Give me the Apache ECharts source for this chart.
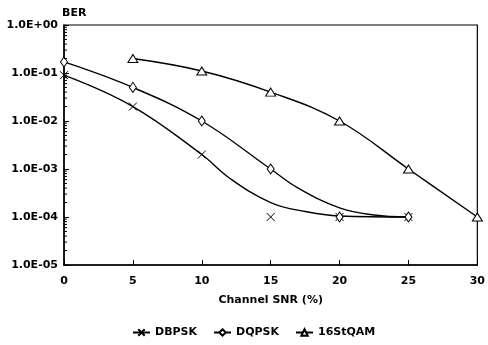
<!DOCTYPE html>
<html>
<head>
<meta charset="utf-8">
<script src="https://cdn.jsdelivr.net/npm/echarts@6/dist/echarts.min.js"></script>
<style>
html,body{margin:0;padding:0;background:#fff;}
#chart{width:488px;height:345px;}
</style>
</head>
<body>
<div id="chart"></div>
<script>
// Series names
var seriesNames = ['DBPSK', 'DQPSK', '16StQAM'];
// Measured markers [SNR, BER]
var dbpskPoints = [[0, 0.09], [5, 0.02], [10, 0.002], [15, 1e-4], [20, 1e-4], [25, 1e-4]];
var dqpskPoints = [[0, 0.17], [5, 0.05], [10, 0.01], [15, 1e-3], [20, 1e-4], [25, 1e-4]];
var qamPoints = [[5, 0.2], [10, 0.11], [15, 0.04], [20, 0.01], [25, 1e-3], [30, 1e-4]];
// Fitted curves [SNR, BER]
var dbpskCurve = [[0, 0.09], [5, 0.02], [10, 0.002], [12, 6.5e-4], [15, 2e-4], [17.5, 1.3e-4], [20, 1.05e-4], [25, 1e-4]];
var dqpskCurve = [[0, 0.17], [5, 0.05], [10, 0.01], [15, 1e-3], [17, 4e-4], [20, 1.55e-4], [22.5, 1.1e-4], [25, 1e-4]];
var qamCurve = [[5, 0.2], [10, 0.11], [15, 0.04], [20, 0.01], [25, 1e-3], [30, 1e-4]];
// Axis settings
var yExpMin = -5, yExpMax = 0;

function fmtExp(v) {
  var e = Math.round(Math.log10(v));
  var a = Math.abs(e);
  return '1.0E' + (e >= 0 ? '+' : '-') + (a < 10 ? '0' : '') + a;
}

// minor log tick positions (axis decoration)
var minorTickVals = [];
for (var e = yExpMin; e < yExpMax; e++) {
  for (var k = 2; k <= 9; k++) minorTickVals.push([0, k * Math.pow(10, e)]);
}

var FONT = 'DejaVu Sans';
var chart = echarts.init(document.getElementById('chart'), null, {renderer: 'canvas'});
var crossPath = 'path://M0,0L10,10M10,0L0,10';
var symbols = [crossPath, 'diamond', 'triangle'];
var symSizes = [[8, 8], [7, 10], [10, 8]];
var curves = [dbpskCurve, dqpskCurve, qamCurve];
var points = [dbpskPoints, dqpskPoints, qamPoints];

var series = [];
for (var i = 0; i < 3; i++) {
  series.push({
    name: seriesNames[i],
    type: 'line',
    data: curves[i],
    smooth: 0.4,
    showSymbol: false,
    symbol: symbols[i],
    symbolSize: symSizes[i],
    lineStyle: {color: '#000', width: 1.4},
    itemStyle: {color: i === 0 ? 'rgba(0,0,0,0)' : '#fff', borderColor: '#000', borderWidth: 1},
    z: 2,
    silent: true
  });
}
for (var j = 0; j < 3; j++) {
  series.push({
    name: seriesNames[j] + ' pts',
    type: 'scatter',
    data: points[j],
    symbol: symbols[j],
    symbolSize: symSizes[j],
    itemStyle: {color: j === 0 ? 'rgba(0,0,0,0)' : '#fff', borderColor: '#000', borderWidth: 1, opacity: 1},
    z: 3,
    silent: true
  });
}
series.push({
  type: 'custom',
  name: 'minorTicks',
  data: minorTickVals,
  silent: true,
  clip: false,
  z: 5,
  renderItem: function (params, api) {
    var p = api.coord([api.value(0), api.value(1)]);
    return {type: 'line', shape: {x1: p[0], y1: p[1], x2: p[0] + 3, y2: p[1]}, style: {stroke: '#000', lineWidth: 1}};
  }
});

chart.setOption({
  animation: false,
  backgroundColor: '#fff',
  grid: {left: 64, right: 7, top: 25, bottom: 80, show: true, borderColor: '#000', borderWidth: 1.2, backgroundColor: 'transparent'},
  legend: {
    data: seriesNames,
    left: 127, top: 322,
    itemWidth: 17, itemHeight: 8, itemGap: 16,
    textStyle: {fontFamily: FONT, fontSize: 11, fontWeight: 'bold', color: '#000'},
    selectedMode: false
  },
  xAxis: {
    type: 'value', min: 0, max: 30, interval: 5,
    name: 'Channel SNR (%)', nameLocation: 'middle', nameGap: 30,
    nameTextStyle: {fontFamily: FONT, fontSize: 11, fontWeight: 'bold', color: '#000'},
    axisLine: {lineStyle: {color: '#000', width: 1.5}},
    axisTick: {inside: true, length: 5, lineStyle: {color: '#000'}},
    axisLabel: {fontFamily: FONT, fontSize: 11, fontWeight: 'bold', color: '#000', margin: 11},
    splitLine: {show: false}
  },
  yAxis: {
    type: 'log', logBase: 10, min: Math.pow(10, yExpMin), max: Math.pow(10, yExpMax), interval: 1,
    name: 'BER', nameLocation: 'end', nameGap: 6,
    nameTextStyle: {fontFamily: FONT, fontSize: 11, fontWeight: 'bold', color: '#000', align: 'left', padding: [0, 0, 0, -2]},
    axisLine: {lineStyle: {color: '#000', width: 1.5}},
    axisTick: {inside: true, length: 5, lineStyle: {color: '#000'}},
    axisLabel: {fontFamily: FONT, fontSize: 11, fontWeight: 'bold', color: '#000', margin: 6, formatter: fmtExp},
    splitLine: {show: false}
  },
  series: series
});
</script>
</body>
</html>
